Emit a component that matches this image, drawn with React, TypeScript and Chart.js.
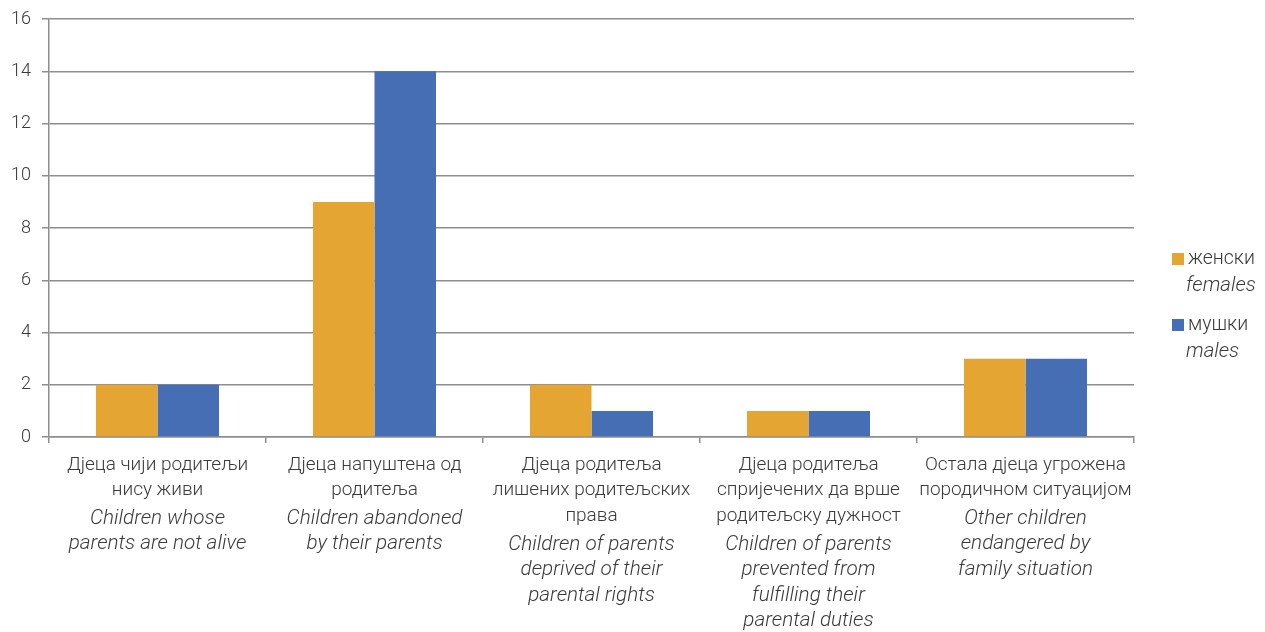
import React, { useEffect, useRef } from "react";
import { Chart, registerables } from "chart.js";

Chart.register(...registerables);

const categoriesSr: string[][] = [
  ["Дјеца чији родитељи", "нису живи"],
  ["Дјеца напуштена од", "родитеља"],
  ["Дјеца родитеља", "лишених родитељских", "права"],
  ["Дјеца родитеља", "спријечених да врше", "родитељску дужност"],
  ["Остала дјеца угрожена", "породичном ситуацијом"],
];
const categoriesEn: string[][] = [
  ["Children whose", "parents are not alive"],
  ["Children abandoned", "by their parents"],
  ["Children of parents", "deprived of their", "parental rights"],
  ["Children of parents", "prevented from", "fulfilling their", "parental duties"],
  ["Other children", "endangered by", "family situation"],
];
const females: number[] = [2, 9, 2, 1, 3];
const males: number[] = [2, 14, 1, 1, 3];
const seriesSr: string[] = ["женски", "мушки"];
const seriesEn: string[] = ["females", "males"];
const colors: string[] = ["#E5A533", "#466EB4"];

const FONT = "Roboto, 'Noto Sans', sans-serif";
const TEXT = "#3a3a3a";
const GRID = "#8e8e8e";

const labelPlugin = {
  id: "customLabels",
  afterDraw(chart: any) {
    const ctx = chart.ctx;
    const xs = chart.scales.x;
    const area = chart.chartArea;
    ctx.save();
    ctx.fillStyle = TEXT;
    ctx.textAlign = "center";
    ctx.textBaseline = "middle";
    categoriesSr.forEach((lines, i) => {
      const cx = xs.getPixelForValue(i);
      let y = area.bottom + 28;
      ctx.font = `300 19px ${FONT}`;
      lines.forEach((l, j) => {
        ctx.fillText(l, cx, y);
        if (j < lines.length - 1) y += 25.7;
      });
      y += 28;
      ctx.font = `italic 300 20.7px ${FONT}`;
      categoriesEn[i].forEach((l) => {
        ctx.fillText(l, cx, y);
        y += 25.6;
      });
    });
    // legend
    const lx = area.right + 38;
    const tops = [259, 325];
    ctx.textAlign = "left";
    seriesSr.forEach((s, i) => {
      const ty = tops[i];
      ctx.fillStyle = colors[i];
      ctx.fillRect(lx, ty - 6, 12, 12);
      ctx.fillStyle = TEXT;
      ctx.font = `300 19.5px ${FONT}`;
      ctx.fillText(s, lx + 16, ty);
      ctx.font = `italic 300 20.5px ${FONT}`;
      ctx.fillText(seriesEn[i], lx + 14, ty + 27);
    });
    ctx.restore();
  },
};

export default function App() {
  const ref = useRef<HTMLCanvasElement | null>(null);
  useEffect(() => {
    if (!ref.current) return;
    const chart = new Chart(ref.current, {
      type: "bar",
      data: {
        labels: categoriesSr.map((c) => c.join(" ")),
        datasets: [
          {
            label: seriesSr[0],
            data: females,
            backgroundColor: colors[0],
            barPercentage: 1,
            categoryPercentage: 0.567,
          },
          {
            label: seriesSr[1],
            data: males,
            backgroundColor: colors[1],
            barPercentage: 1,
            categoryPercentage: 0.567,
          },
        ],
      },
      options: {
        animation: false,
        responsive: false,
        layout: { padding: { top: 19, right: 131, left: 0, bottom: 0 } },
        plugins: { legend: { display: false }, tooltip: { enabled: false } },
        scales: {
          x: {
            grid: {
              drawOnChartArea: false,
              drawTicks: true,
              tickLength: 6,
              color: GRID,
              lineWidth: 1.5,
            },
            border: { color: GRID, width: 1.5 },
            ticks: { display: false },
            afterFit: (s: any) => {
              s.height = 195;
              s.paddingLeft = 0;
              s.paddingRight = 0;
            },
          },
          y: {
            min: 0,
            max: 16,
            ticks: {
              stepSize: 2,
              padding: 11,
              color: TEXT,
              font: { family: FONT, size: 18, weight: "300" as any },
            },
            grid: { color: GRID, lineWidth: 1.5, tickLength: 7 },
            border: { color: GRID, width: 1.5 },
            afterFit: (s: any) => {
              s.width = 49;
              s.paddingTop = 0;
              s.paddingBottom = 0;
            },
          },
        },
      },
      plugins: [labelPlugin],
    });
    return () => chart.destroy();
  }, []);
  return (
    <div style={{ position: "fixed", left: 0, top: 0, width: 1265, height: 632, background: "#fff" }}>
      <canvas ref={ref} width={1265} height={632} />
    </div>
  );
}
